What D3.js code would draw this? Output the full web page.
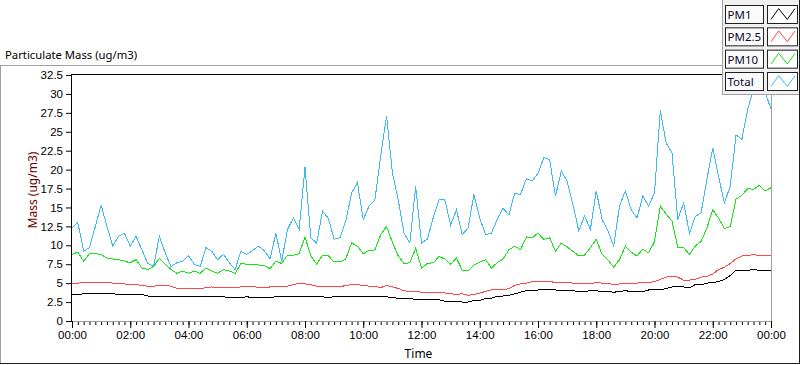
<!DOCTYPE html>
<html>
<head>
<meta charset="utf-8">
<script src="https://cdn.jsdelivr.net/npm/d3@7"></script>
<style>
body { margin: 0; background: #fff; }
svg { display: block; font-family: "Noto Sans", "Open Sans", sans-serif; }
</style>
</head>
<body>
<svg id="chart"></svg>
<script>
// samples every 12 minutes from 00:00 to 24:00
var stepMinutes = 12;

var total = [12.3, 13.0, 9.2, 9.7, 12.5, 15.3, 12.5, 9.9, 11.2, 11.6, 9.9, 11.2, 9.4, 7.6, 7.2, 11.2, 9.0, 7.2, 7.7, 7.9, 8.6, 7.5, 7.2, 9.7, 9.2, 8.1, 8.8, 7.7, 6.8, 9.2, 8.8,
    9.3, 9.9, 9.3, 8.2, 11.6, 7.9, 12.1, 13.6, 12.1, 20.3, 11.0, 10.3, 14.5, 13.6, 10.8, 11.0, 13.2, 16.9, 18.3, 13.4, 15.2, 16.0, 21.8, 27.1, 19.6, 16.0, 11.6, 10.3, 17.8, 10.3,
    10.8, 13.6, 16.0, 16.0, 12.7, 14.7, 11.4, 12.3, 16.7, 13.6, 11.4, 11.6, 13.4, 14.9, 14.0, 16.9, 16.7, 18.8, 18.5, 19.5, 21.6, 21.3, 16.5, 19.8, 18.5, 15.4, 11.9, 13.9, 12.1, 17.2,
    13.4, 11.9, 9.9, 15.2, 17.2, 14.7, 13.6, 16.5, 15.2, 16.9, 27.8, 23.5, 22.2, 13.4, 15.6, 11.6, 13.8, 14.3, 18.7, 22.9, 19.1, 15.6, 17.8, 24.6, 24.0, 28.0, 30.6, 31.0, 30.2, 28.0];

var pm10 = [8.8, 9.1, 7.9, 8.9, 8.9, 8.8, 8.3, 8.2, 8.1, 7.9, 7.7, 8.1, 7.0, 6.8, 7.2, 8.3, 7.5, 6.8, 6.3, 6.6, 6.3, 6.6, 6.3, 7.0, 6.6, 6.3, 6.8, 6.6, 6.3, 7.6, 7.5,
    7.5, 7.4, 7.3, 6.9, 7.9, 7.6, 8.7, 8.7, 8.9, 11.1, 8.6, 7.5, 8.7, 8.6, 7.8, 7.8, 8.2, 10.3, 9.9, 8.9, 9.3, 9.4, 11.4, 12.5, 10.4, 8.6, 7.6, 7.7, 9.6, 7.0,
    7.6, 7.7, 8.5, 8.2, 7.5, 8.3, 6.7, 6.6, 7.4, 7.8, 8.1, 7.0, 7.7, 8.2, 9.4, 9.9, 9.4, 11.1, 11.0, 11.6, 10.8, 11.0, 9.2, 10.3, 9.8, 9.2, 8.6, 8.7, 9.7, 10.8,
    8.8, 8.1, 7.1, 8.1, 9.9, 9.1, 8.6, 9.5, 9.0, 10.5, 15.2, 14.1, 13.2, 9.7, 9.7, 8.8, 9.9, 10.5, 12.3, 14.7, 13.6, 12.2, 12.5, 16.1, 16.6, 17.5, 17.4, 17.9, 17.2, 17.6];

var pm25 = [4.9, 5.0, 5.1, 5.1, 5.1, 5.1, 5.1, 5.0, 4.9, 4.9, 4.8, 4.8, 4.7, 4.6, 4.6, 4.7, 4.7, 4.6, 4.3, 4.3, 4.3, 4.3, 4.3, 4.4, 4.5, 4.4, 4.4, 4.4, 4.4, 4.5, 4.6,
    4.6, 4.4, 4.4, 4.5, 4.6, 4.6, 4.6, 4.8, 5.0, 4.9, 4.8, 4.6, 4.5, 4.5, 4.5, 4.5, 4.7, 4.8, 4.8, 4.7, 4.6, 4.6, 4.4, 4.7, 4.5, 4.3, 4.0, 3.9, 3.9, 3.8,
    3.8, 3.8, 3.8, 3.7, 3.6, 3.5, 3.6, 3.4, 3.5, 3.7, 3.9, 4.1, 4.1, 4.1, 4.3, 4.7, 4.9, 5.0, 5.2, 5.2, 5.2, 5.2, 5.1, 5.1, 5.1, 5.0, 5.0, 4.9, 4.9, 5.1,
    5.0, 5.0, 4.8, 4.9, 5.0, 5.0, 5.0, 5.1, 5.1, 5.2, 5.5, 5.8, 5.9, 5.8, 5.4, 5.4, 5.5, 5.8, 5.9, 6.2, 6.8, 7.1, 7.6, 8.2, 8.6, 8.6, 8.8, 8.6, 8.6, 8.6];

var pm1 = [3.5, 3.5, 3.6, 3.6, 3.6, 3.6, 3.6, 3.6, 3.5, 3.5, 3.5, 3.5, 3.5, 3.3, 3.3, 3.3, 3.3, 3.3, 3.2, 3.2, 3.2, 3.2, 3.2, 3.2, 3.2, 3.2, 3.2, 3.1, 3.1, 3.1, 3.2,
    3.1, 3.1, 3.1, 3.1, 3.2, 3.2, 3.2, 3.2, 3.3, 3.3, 3.3, 3.2, 3.2, 3.1, 3.2, 3.2, 3.2, 3.3, 3.3, 3.3, 3.3, 3.2, 3.2, 3.2, 3.1, 3.0, 3.0, 3.0, 2.8, 2.8,
    2.8, 2.8, 2.8, 2.6, 2.6, 2.6, 2.5, 2.5, 2.7, 2.7, 3.0, 3.0, 3.3, 3.3, 3.4, 3.6, 3.8, 4.0, 4.0, 4.1, 4.1, 4.1, 4.1, 4.0, 4.0, 4.0, 3.9, 3.9, 4.0, 4.0,
    3.9, 3.9, 3.8, 3.9, 4.0, 3.9, 3.9, 3.9, 4.1, 4.1, 4.1, 4.3, 4.5, 4.5, 4.5, 4.4, 4.8, 4.8, 5.0, 5.1, 5.2, 5.5, 6.0, 6.7, 6.7, 6.7, 6.8, 6.7, 6.7, 6.7];

var seriesNames = ["PM1", "PM2.5", "PM10", "Total"];
var seriesColors = ["#000000", "#ff4646", "#14e614", "#3cb9f5"];
var seriesValues = [pm1, pm25, pm10, total];

var xTickLabels = ["00:00", "02:00", "04:00", "06:00", "08:00", "10:00", "12:00",
                   "14:00", "16:00", "18:00", "20:00", "22:00", "00:00"];
var yTickValues = [0, 2.5, 5, 7.5, 10, 12.5, 15, 17.5, 20, 22.5, 25, 27.5, 30, 32.5];

var screen = {width: 800, height: 365};
var plot = {left: 72, right: 771, top: 75, bottom: 321};

var svg = d3.select("#chart")
    .attr("width", screen.width)
    .attr("height", screen.height);

var xScale = d3.scaleLinear()
    .domain([0, 24 * 60])
    .range([plot.left, plot.right]);

var yScale = d3.scaleLinear()
    .domain([0, 32.5])
    .range([plot.bottom, plot.top]);

// outer frame
svg.append("line").attr("x1", 0).attr("x2", 722).attr("y1", 65.5).attr("y2", 65.5)
    .attr("stroke", "#a0a0a0");
svg.append("line").attr("x1", 0.5).attr("x2", 0.5).attr("y1", 65).attr("y2", 364)
    .attr("stroke", "#a0a0a0");
svg.append("line").attr("x1", 0).attr("x2", 800).attr("y1", 363.5).attr("y2", 363.5)
    .attr("stroke", "#1e1e1e");
svg.append("line").attr("x1", 799.5).attr("x2", 799.5).attr("y1", 0).attr("y2", 364)
    .attr("stroke", "#1e1e1e");

svg.append("text")
    .attr("x", 5).attr("y", 59)
    .style("font-size", "11.3px")
    .attr("fill", "#000")
    .text("Particulate Mass (ug/m3)");

// plot area borders: top/left dark, bottom/right grey
svg.append("line").attr("x1", plot.left).attr("x2", plot.right + 1)
    .attr("y1", plot.top - 0.5).attr("y2", plot.top - 0.5).attr("stroke", "#000");
svg.append("line").attr("x1", plot.right + 0.5).attr("x2", plot.right + 0.5)
    .attr("y1", plot.top - 1).attr("y2", plot.bottom + 1).attr("stroke", "#a0a0a0");

var xMajor = d3.axisBottom(xScale)
    .tickValues(d3.range(0, 24 * 60 + 1, 120))
    .tickSize(7)
    .tickPadding(3)
    .tickFormat(function(d, i) { return xTickLabels[i]; });

var xMinor = d3.axisBottom(xScale)
    .tickValues(d3.range(0, 24 * 60 + 1, 12))
    .tickSize(4)
    .tickFormat("");

svg.append("g")
    .attr("id", "xMinor")
    .attr("transform", "translate(0," + plot.bottom + ")")
    .call(xMinor)
    .call(function(g) { g.select(".domain").remove(); });

var gx = svg.append("g")
    .attr("id", "xAxis")
    .attr("transform", "translate(0," + plot.bottom + ")")
    .call(xMajor);
gx.select(".domain").attr("stroke", "#a0a0a0").attr("d", "M" + plot.left + ",0.5H" + (plot.right + 1));
gx.selectAll("text").style("font-size", "11.5px").attr("fill", "#000");

var yAxis = d3.axisLeft(yScale)
    .tickValues(yTickValues)
    .tickSize(5)
    .tickPadding(3)
    .tickFormat(d3.format("~g"));

var gy = svg.append("g")
    .attr("id", "yAxis")
    .attr("transform", "translate(" + (plot.left - 1) + ",0)")
    .call(yAxis);
gy.select(".domain").attr("d", "M0.5," + (plot.top - 1) + "V" + (plot.bottom + 1));
gy.selectAll("text").style("font-size", "11.5px").attr("fill", "#000");

svg.append("text")
    .attr("transform", "translate(37," + ((plot.top + plot.bottom) / 2 - 8) + ") rotate(-90)")
    .attr("text-anchor", "middle")
    .style("font-size", "12px")
    .attr("fill", "#6e0000")
    .text("Mass (ug/m3)");

svg.append("text")
    .attr("x", (plot.left + plot.right) / 2 - 3)
    .attr("y", 358)
    .attr("text-anchor", "middle")
    .style("font-size", "12px")
    .attr("fill", "#000")
    .text("Time");

// data lines
svg.append("clipPath").attr("id", "plotClip")
    .append("rect")
    .attr("x", plot.left).attr("y", plot.top)
    .attr("width", plot.right - plot.left).attr("height", plot.bottom - plot.top);

var line = d3.line()
    .x(function(d, i) { return xScale(i * stepMinutes); })
    .y(function(d) { return yScale(d); });

var lines = svg.append("g").attr("clip-path", "url(#plotClip)");
seriesValues.forEach(function(values, k) {
    lines.append("path")
        .datum(values)
        .attr("fill", "none")
        .attr("stroke", seriesColors[k])
        .attr("stroke-width", 1)
        .attr("shape-rendering", "crispEdges")
        .attr("d", line);
});

// legend
var legend = svg.append("g").attr("id", "legend");
legend.append("rect")
    .attr("x", 722).attr("y", 0).attr("width", 77).attr("height", 94)
    .attr("fill", "#f0f0f0");
legend.append("line").attr("x1", 722.5).attr("x2", 722.5).attr("y1", 0).attr("y2", 95)
    .attr("stroke", "#a0a0a0");
legend.append("line").attr("x1", 722).attr("x2", 799).attr("y1", 94.5).attr("y2", 94.5)
    .attr("stroke", "#a0a0a0");

var rowY = d3.scalePoint().domain(seriesNames).range([5, 72]);
var sampleX = d3.scaleLinear().domain([0, 1]).range([771, 795]);
var sampleY = d3.scaleLinear().domain([0, 1]).range([15, 3]);
var zigzag = [[0, 0.05], [0.32, 0.95], [0.68, 0.05], [1, 0.95]];

seriesNames.forEach(function(name, k) {
    var y0 = rowY(name);
    var row = legend.append("g").attr("transform", "translate(0," + y0 + ")");
    row.append("rect")
        .attr("x", 725.5).attr("y", 0.5).attr("width", 38).attr("height", 18)
        .attr("fill", "#fafafa").attr("stroke", "#202020");
    row.append("text")
        .attr("x", 727.5).attr("y", 14)
        .style("font-size", "11.5px")
        .attr("fill", "#0a0a30")
        .text(name);
    row.append("rect")
        .attr("x", 767.5).attr("y", 0.5).attr("width", 30).attr("height", 18)
        .attr("fill", "#ffffff").attr("stroke", "#202020");
    row.append("path")
        .datum(zigzag)
        .attr("fill", "none")
        .attr("stroke", seriesColors[k])
        .attr("d", d3.line()
            .x(function(d) { return sampleX(d[0]); })
            .y(function(d) { return sampleY(d[1]); }));
});
</script>
</body>
</html>
